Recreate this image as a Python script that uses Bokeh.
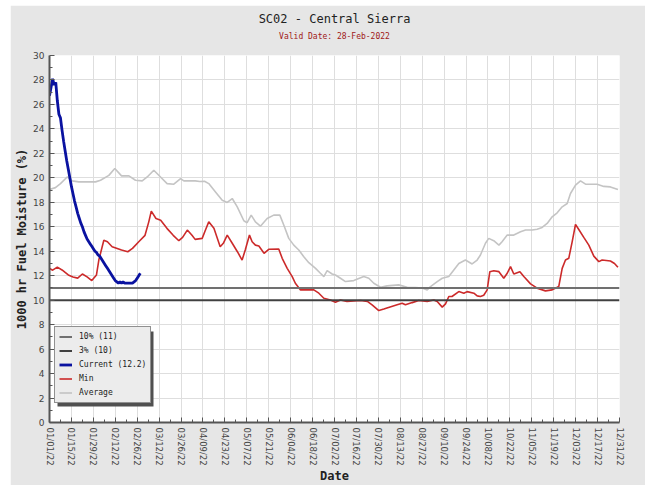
from bokeh.plotting import figure
from bokeh.models import FixedTicker, Legend, LegendItem, Title, Range1d, BoxAnnotation
from bokeh.embed import file_html
from bokeh.resources import INLINE

title_text = "SC02 - Central Sierra"
subtitle_text = "Valid Date: 28-Feb-2022"
x_label = "Date"
y_label = "1000 hr Fuel Moisture (%)"

tick_days = [0, 14, 28, 42, 56, 70, 84, 98, 112, 126, 140, 154, 168, 182, 196,
             210, 224, 238, 252, 266, 280, 294, 308, 322, 336, 350, 364]
tick_labels = ["01/01/22", "01/15/22", "01/29/22", "02/12/22", "02/26/22", "03/12/22",
               "03/26/22", "04/09/22", "04/23/22", "05/07/22", "05/21/22", "06/04/22",
               "06/18/22", "07/02/22", "07/16/22", "07/30/22", "08/13/22", "08/27/22",
               "09/10/22", "09/24/22", "10/08/22", "10/22/22", "11/05/22", "11/19/22",
               "12/03/22", "12/17/22", "12/31/22"]

year_days = [0, 364]
pct10_value = 11
pct3_value = 10

cur_day = list(range(0, 59))
cur_val = [26.7, 27.4, 28.1, 27.6, 27.8, 26.3, 25.2, 24.9, 23.9, 23.0,
           22.2, 21.4, 20.7, 20.0, 19.3, 18.7, 18.1, 17.6, 17.1, 16.7,
           16.3, 16.0, 15.6, 15.3, 15.0, 14.8, 14.6, 14.4, 14.2, 14.0,
           13.9, 13.7, 13.6, 13.4, 13.2, 13.0, 12.8, 12.6, 12.4, 12.2,
           12.0, 11.8, 11.6, 11.5, 11.4, 11.5, 11.4, 11.5, 11.4, 11.4,
           11.4, 11.4, 11.4, 11.4, 11.5, 11.6, 11.8, 12.0, 12.2]

min_day = [0, 2, 5, 8, 12, 15, 18, 21, 24, 27, 30, 31.5, 34.7, 37, 40, 46, 50, 53, 57, 61,
           63.4, 65, 68, 71, 75, 79, 82.6, 85, 88, 91, 93, 97.5, 99.6, 101.7, 105, 109, 111,
           113.5, 116.7, 120, 123, 125, 127.7, 129.4, 131.5, 133.7, 137, 140, 146.4, 148.6,
           151.8, 155, 157, 160.3, 168.8, 172, 175.2, 179.4, 182.6, 185.8, 190, 198.6, 203,
           206, 210.3, 213.5, 222, 225.2, 227.3, 231.6, 235.8, 241.2, 245.4, 247.6, 250.8,
           252.9, 255, 257, 261.4, 264.6, 266.7, 271, 273.1, 275.2, 277.3, 279.5, 281.2,
           283.7, 287, 290.1, 292.3, 294.4, 296.5, 300.4, 302.9, 307.2, 311.4, 316.7, 321,
           325.2, 327.4, 329.5, 331.6, 333.8, 335.9, 338, 341.2, 344.4, 347.6, 350.8, 352.9,
           358.2, 360.8, 363]
min_val = [12.6, 12.45, 12.7, 12.47, 12.06, 11.9, 11.8, 12.14, 11.9, 11.6, 12.06, 13.28, 14.9,
           14.78, 14.37, 14.1, 13.96, 14.23, 14.78, 15.3, 16.4, 17.28, 16.68, 16.54, 15.87, 15.3,
           14.86, 15.13, 15.73, 15.3, 14.97, 15.05, 15.73, 16.4, 15.87, 14.37, 14.65, 15.32,
           14.65, 13.96, 13.28, 14.1, 15.32, 14.78, 14.5, 14.43, 13.83, 14.16, 14.18, 13.42,
           12.6, 11.93, 11.38, 10.84, 10.84, 10.57, 10.16, 10.02, 9.83, 10.02, 9.89, 9.97, 9.9,
           9.62, 9.15, 9.27, 9.62, 9.75, 9.62, 9.8, 9.97, 9.89, 10.02, 9.89, 9.43, 9.7, 10.3,
           10.3, 10.7, 10.57, 10.7, 10.57, 10.35, 10.3, 10.4, 10.84, 12.33, 12.4, 12.33, 11.79,
           12.2, 12.74, 12.14, 12.33, 11.93, 11.33, 10.98, 10.76, 10.84, 11.11, 12.6, 13.28,
           13.42, 14.78, 16.2, 15.78, 15.13, 14.5, 13.6, 13.15, 13.28, 13.2, 13.0, 12.69]

avg_day = [0, 3.8, 7, 11.3, 14.5, 18.7, 29.4, 32.6, 37.9, 41.7, 46, 50.7, 54.9, 59.2, 62.4,
           66.6, 70.9, 75.1, 79.4, 83.7, 85.8, 93, 96, 99, 101.7, 106, 110.3, 113.5, 116.7,
           119.9, 124.1, 126.2, 128.8, 131.5, 134.7, 139, 143.2, 147.1, 149.6, 152.8, 156,
           159.2, 162.4, 165.6, 169.9, 173, 175.2, 177.3, 180.5, 182.6, 185.8, 189, 194.3,
           200.7, 203.9, 207.1, 211.4, 215.6, 223, 228.4, 233.7, 238, 241.2, 243.3, 247.6,
           250.8, 255, 258.2, 261.4, 265.6, 269.9, 273.1, 275.2, 278.4, 280.5, 283.7, 287, 289,
           292.3, 296.5, 300.8, 304, 308.2, 311.4, 314.6, 317.8, 321, 324.2, 327.4, 330.6,
           332.7, 335.9, 339.1, 342.3, 349.7, 354, 358.2, 363]
avg_val = [19.04, 19.2, 19.53, 20.07, 19.75, 19.67, 19.67, 19.8, 20.2, 20.76, 20.16, 20.16, 19.8,
           19.75, 20.07, 20.62, 20.07, 19.53, 19.48, 19.94, 19.75, 19.75, 19.7, 19.72, 19.53,
           18.85, 18.17, 17.99, 18.31, 17.63, 16.49, 16.33, 16.95, 16.4, 16.05, 16.68, 16.95,
           16.95, 16.14, 15.05, 14.5, 14.1, 13.55, 13.06, 12.6, 12.2, 11.93, 12.41, 12.14,
           12.06, 11.79, 11.52, 11.6, 11.93, 11.79, 11.38, 11.06, 11.17, 11.25, 11.06, 11.03,
           11.0, 10.84, 11.11, 11.52, 11.79, 11.93, 12.47, 13.0, 13.28, 12.96, 13.28, 13.69,
           14.65, 15.05, 14.86, 14.5, 14.78, 15.32, 15.32, 15.59, 15.73, 15.73, 15.8, 15.95,
           16.27, 16.81, 17.14, 17.63, 17.9, 18.72, 19.4, 19.75, 19.48, 19.48, 19.3, 19.26, 19.04]

legend_labels = ["10% (11)", "3% (10)", "Current (12.2)", "Min", "Average"]

MONO = "DejaVu Sans Mono"
SANS = "DejaVu Sans"

p = figure(width=635, height=480, output_backend="svg", toolbar_location=None,
           x_range=Range1d(0, 364), y_range=Range1d(0, 30),
           min_border_left=39, min_border_right=26, min_border_top=50, min_border_bottom=62,
           border_fill_color="#e6e6e6", background_fill_color="white",
           outline_line_color=None, title=None)
p.margin = (5, 0, 0, 10)

# spacer between the frame and the subtitle
p.add_layout(Title(text=" ", text_font=MONO, text_font_size="8px", standoff=3), "above")
p.add_layout(Title(text=subtitle_text, align="center", text_font=MONO, text_font_size="8px",
                   text_font_style="normal", text_color="#a01818", standoff=2), "above")
p.add_layout(Title(text=title_text, align="center", text_font=MONO, text_font_size="12px",
                   text_font_style="normal", text_color="#222222", standoff=6), "above")

r_avg = p.line(avg_day, avg_val, line_color="#c4c4c4", line_width=1.6)
r_min = p.line(min_day, min_val, line_color="#cc2a2a", line_width=1.6)
r_p10 = p.line(year_days, [pct10_value, pct10_value], line_color="#707070", line_width=2)
r_p3 = p.line(year_days, [pct3_value, pct3_value], line_color="#404040", line_width=2)
r_cur = p.line(cur_day, cur_val, line_color="#0a12a0", line_width=2.8)

minor_x = [d + 7 for d in tick_days[:-1]]
p.xaxis.ticker = FixedTicker(ticks=tick_days, minor_ticks=minor_x)
p.xaxis.major_label_overrides = {d: lab for d, lab in zip(tick_days, tick_labels)}
p.xaxis.major_label_orientation = "vertical"
p.yaxis.ticker = FixedTicker(ticks=list(range(0, 31, 2)), minor_ticks=list(range(1, 30, 2)))

for ax in (p.xaxis, p.yaxis):
    ax.axis_line_color = "#555555"
    ax.axis_line_width = 2
    ax.major_tick_in = 5
    ax.major_tick_out = 0
    ax.minor_tick_in = 3
    ax.minor_tick_out = 0
    ax.major_tick_line_color = "#555555"
    ax.minor_tick_line_color = "#555555"
    ax.major_label_text_font = SANS
    ax.major_label_text_color = "#444444"
    ax.axis_label_text_font = MONO
    ax.axis_label_text_font_style = "bold"
    ax.axis_label_text_font_size = "12px"
    ax.axis_label_text_color = "#222222"

p.xaxis.major_label_text_font_size = "8.5px"
p.yaxis.major_label_text_font_size = "9px"
p.xaxis.major_label_standoff = 5
p.yaxis.major_label_standoff = 5
p.xaxis.axis_label = x_label
p.yaxis.axis_label = y_label
p.xaxis.axis_label_standoff = 0
p.yaxis.axis_label_standoff = 1

p.xgrid.grid_line_color = "#dedede"
p.ygrid.grid_line_color = "#dedede"

renderers = [r_p10, r_p3, r_cur, r_min, r_avg]

# drop shadow behind the legend box
p.add_layout(BoxAnnotation(left=8, right=104, bottom=16, top=91,
                           left_units="screen", right_units="screen",
                           bottom_units="screen", top_units="screen",
                           fill_color="#505050", fill_alpha=1, line_color=None))

legend = Legend(items=[LegendItem(label=s, renderers=[r]) for s, r in zip(legend_labels, renderers)],
                location=(5, 19))
legend.label_text_font = MONO
legend.label_text_font_size = "8px"
legend.label_text_color = "#222222"
legend.glyph_width = 13
legend.glyph_height = 11
legend.label_height = 11
legend.spacing = 3
legend.padding = 4
legend.margin = 0
legend.label_standoff = 7
legend.background_fill_color = "#ececec"
legend.background_fill_alpha = 1
legend.border_line_color = "#333333"
legend.border_line_width = 1
p.add_layout(legend, "center")

open("out.html", "w").write(file_html(p, INLINE))
